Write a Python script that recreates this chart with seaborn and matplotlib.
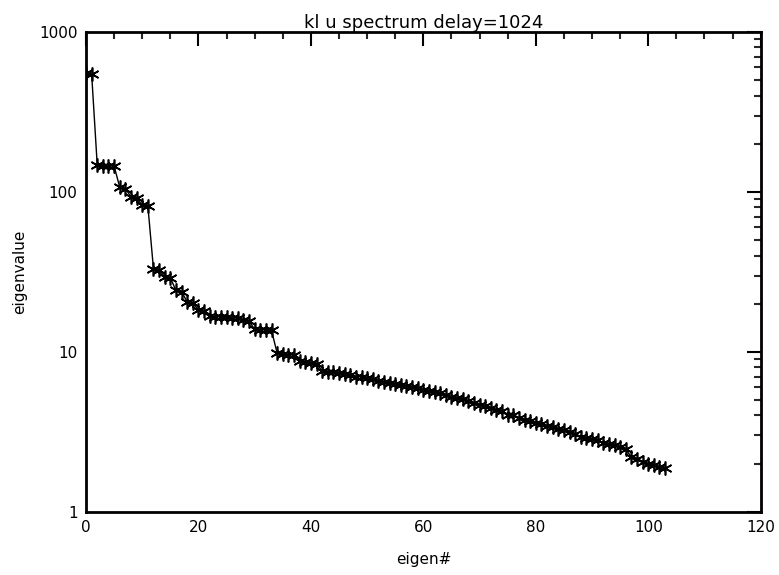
import numpy as np
import pandas as pd
import matplotlib
matplotlib.use("Agg")
import matplotlib.pyplot as plt
from matplotlib.ticker import FixedLocator, FixedFormatter, LogLocator, NullFormatter, MultipleLocator
import seaborn as sns

title = "kl u spectrum delay=1024"
x_label = "eigen#"
y_label = "eigenvalue"

eigen_index = list(range(104))
eigenvalues = [
    555, 548,
    147, 146, 145, 145,
    107, 105,
    93, 91,
    83, 82,
    33, 32.5,
    29.5, 29,
    24.2, 23.8,
    20.5, 20.2,
    18.3, 18.0,
    16.7, 16.6, 16.5, 16.4, 16.3, 16.2, 15.9, 15.6,
    13.8, 13.7, 13.7, 13.6,
    9.8, 9.7, 9.6, 9.5,
    8.7, 8.6, 8.5, 8.4,
    7.6, 7.5, 7.45, 7.35, 7.25, 7.15, 7.0, 6.95, 6.85, 6.75, 6.6, 6.5,
    6.4, 6.3, 6.2, 6.1, 6.0, 5.9, 5.8, 5.7, 5.6, 5.5, 5.35, 5.25,
    5.15, 5.05, 4.9, 4.8, 4.65, 4.55, 4.45, 4.35, 4.25, 4.05, 4.0, 3.85,
    3.75, 3.7, 3.6, 3.55, 3.45, 3.4, 3.3, 3.25, 3.15, 3.05, 2.95, 2.9,
    2.85, 2.8, 2.7, 2.65, 2.6, 2.55, 2.45, 2.2, 2.15, 2.05, 2.0, 1.97,
    1.9, 1.87,
]

x_ticks = [0, 20, 40, 60, 80, 100, 120]
y_ticks = [1, 10, 100, 1000]
y_tick_labels = ["1", "10", "100", "1000"]

df = pd.DataFrame({"eigen": eigen_index, "value": eigenvalues})

sns.set_theme(style="white")
plt.rcParams["font.family"] = ["DejaVu Sans"]
plt.rcParams["text.color"] = "black"
plt.rcParams["axes.labelcolor"] = "black"

fig = plt.figure(figsize=(7.79, 5.75), dpi=100)
ax = fig.add_axes([86 / 779, 1 - 511.7 / 575, (760.7 - 86) / 779, (511.7 - 32) / 575])

sns.lineplot(data=df, x="eigen", y="value", ax=ax, color="black",
             linewidth=1.0, marker=(6, 2, 0), markersize=10,
             markeredgewidth=1.2, markeredgecolor="black")

ax.set_yscale("log")
ax.set_xlim(0, 120)
ax.set_ylim(1, 1000)

ax.xaxis.set_major_locator(FixedLocator(x_ticks))
ax.xaxis.set_minor_locator(MultipleLocator(5))
ax.yaxis.set_major_locator(FixedLocator(y_ticks))
ax.yaxis.set_major_formatter(FixedFormatter(y_tick_labels))
ax.yaxis.set_minor_locator(LogLocator(base=10, subs=np.arange(2, 10)))
ax.yaxis.set_minor_formatter(NullFormatter())

ax.tick_params(axis="both", which="major", direction="in", length=10, width=1.5,
               top=True, right=True, labelsize=11, colors="black", pad=6)
ax.tick_params(axis="both", which="minor", direction="in", length=5, width=1.5,
               top=True, right=True)
for sp in ax.spines.values():
    sp.set_linewidth(2)
    sp.set_color("black")

ax.set_xlabel(x_label, fontsize=11, color="black")
ax.set_ylabel(y_label, fontsize=11, color="black")
ax.xaxis.set_label_coords(0.5, -0.085)
ax.yaxis.set_label_coords(-0.088, 0.5)
ax.set_title(title, fontsize=13, pad=3, color="black")

fig.savefig("out.png", dpi=100)
